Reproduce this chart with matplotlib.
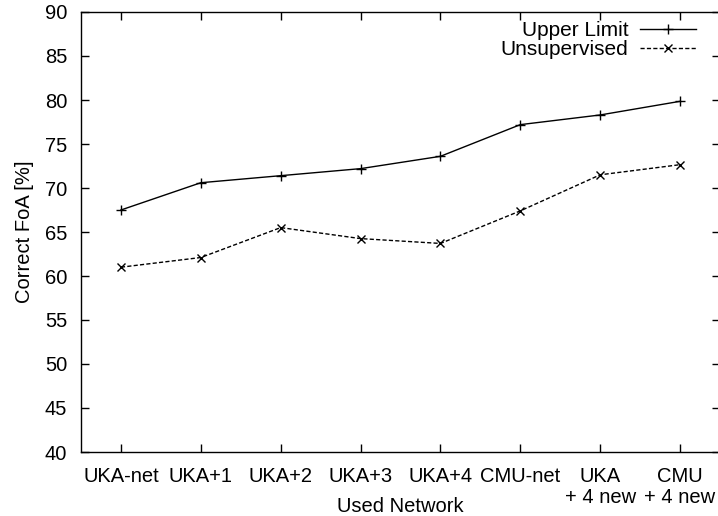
import matplotlib
matplotlib.use("Agg")
import matplotlib.pyplot as plt

networks = ["UKA-net", "UKA+1", "UKA+2", "UKA+3", "UKA+4", "CMU-net",
            "UKA\n+ 4 new", "CMU\n+ 4 new"]
upper_limit = [67.5, 70.6, 71.4, 72.2, 73.6, 77.2, 78.3, 79.85]
unsupervised = [61.0, 62.1, 65.5, 64.25, 63.7, 67.4, 71.5, 72.65]
y_ticks = [40, 45, 50, 55, 60, 65, 70, 75, 80, 85, 90]

plt.rcParams['font.family'] = ['Liberation Sans', 'DejaVu Sans']
FS = 14.5

W, H = 718, 516
fig = plt.figure(figsize=(W / 100, H / 100), dpi=100)
ax = fig.add_axes([81 / W, (H - 452) / H, (720 - 81) / W, (452 - 12) / H])

x = list(range(len(networks)))
ax.plot(x, upper_limit, color='black', lw=1.0, marker='+', ms=7, mew=1.0,
        label='Upper Limit')
ax.plot(x, unsupervised, color='black', lw=1.0, ls=(0, (3, 1.6)), marker='x',
        ms=5.5, mew=1.0, label='Unsupervised')

ax.set_xlim(-0.5, 7.5)
ax.set_ylim(40, 90)
ax.set_xticks(x)
ax.set_xticklabels(networks, fontsize=FS, linespacing=1.1)
ax.set_yticks(y_ticks)
ax.set_yticklabels([str(v) for v in y_ticks], fontsize=FS)
ax.tick_params(direction='in', length=6, width=1.0, top=True, right=True,
               color='black')
ax.tick_params(axis='y', pad=10)
ax.tick_params(axis='x', pad=11)
for s in ax.spines.values():
    s.set_linewidth(1.0)

ax.set_xlabel("Used Network", fontsize=FS)
ax.xaxis.set_label_coords(0.5, -0.102)
ax.set_ylabel("Correct FoA [%]", fontsize=FS, labelpad=8)

leg = ax.legend(loc='upper right', bbox_to_anchor=(696 / W, 1 - 21 / H),
                bbox_transform=fig.transFigure, frameon=False, markerfirst=False,
                fontsize=15, handlelength=2.7, handletextpad=0.55,
                labelspacing=0.0, borderpad=0, borderaxespad=0)
for t in leg.get_texts():
    t.set_ha('right')

fig.savefig("out.png", dpi=100)
